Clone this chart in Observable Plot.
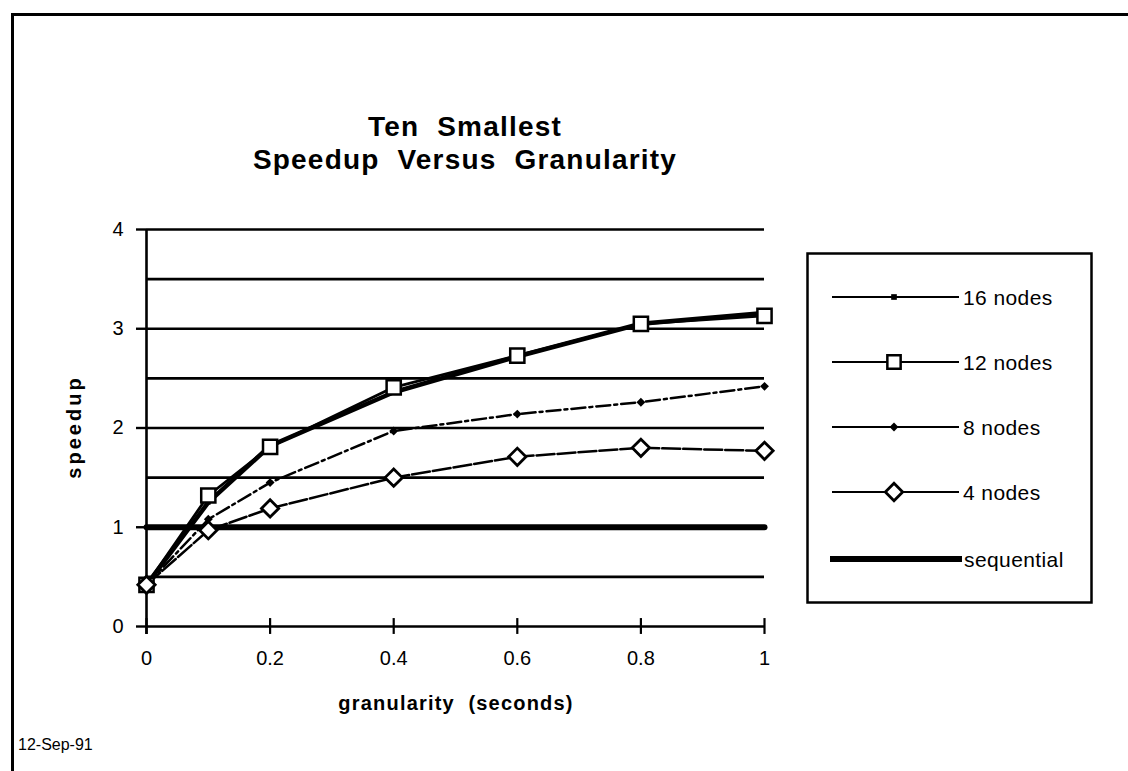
<!DOCTYPE html>
<html><head><meta charset="utf-8">
<script src="https://cdn.jsdelivr.net/npm/d3@7"></script>
<script src="https://cdn.jsdelivr.net/npm/@observablehq/plot@0.6"></script>
<style>
body{margin:0;background:#fff;}
#wrap{position:relative;width:1128px;height:771px;overflow:hidden;font-family:"Liberation Sans",Arial,Helvetica,sans-serif;color:#000;background:#fff;}
#chart{position:absolute;left:0;top:0;}
#border{position:absolute;left:11px;top:13px;width:1300px;height:900px;border-left:3px solid #000;border-top:3px solid #000;}
#title{position:absolute;left:0;width:930px;top:110px;text-align:center;font-weight:bold;font-size:28px;line-height:33px;letter-spacing:1.2px;white-space:pre;}
#ylabel{position:absolute;left:74px;top:427px;transform:translate(-50%,-50%) rotate(-90deg);font-weight:bold;font-size:20px;letter-spacing:3px;white-space:nowrap;}
#xlabel{position:absolute;left:456px;top:703px;transform:translate(-50%,-50%);font-weight:bold;font-size:20px;letter-spacing:1.2px;white-space:pre;}
#date{position:absolute;left:18px;top:736px;font-size:16px;white-space:nowrap;}
#legend{position:absolute;left:806px;top:252px;}
</style></head><body>
<div id="wrap">
  <div id="chart"></div>
  <div id="border"></div>
  <div id="title">Ten  Smallest
Speedup  Versus  Granularity</div>
  <div id="ylabel">speedup</div>
  <div id="xlabel">granularity  (seconds)</div>
  <div id="date">12-Sep-91</div>
  <div id="legend"></div>
</div>
<script>
// ---- data ----
const granularity = [0, 0.1, 0.2, 0.4, 0.6, 0.8, 1];
const nodes16 = [0.42, 1.25, 1.82, 2.36, 2.72, 3.05, 3.16];
const nodes12 = [0.42, 1.32, 1.81, 2.41, 2.73, 3.05, 3.13];
const nodes8  = [0.42, 1.08, 1.45, 1.97, 2.14, 2.26, 2.42];
const nodes4  = [0.42, 0.97, 1.19, 1.50, 1.71, 1.80, 1.77];
const sequential = [1, 1, 1, 1, 1, 1, 1];
const seriesNames = ["16 nodes", "12 nodes", "8 nodes", "4 nodes", "sequential"];
const xTicks = [0, 0.2, 0.4, 0.6, 0.8, 1];
const xTickLabels = ["0", "0.2", "0.4", "0.6", "0.8", "1"];
const yTicks = [0, 1, 2, 3, 4];
const yGrid = [0.5, 1, 1.5, 2, 2.5, 3, 3.5, 4];

const seriesValues = [nodes16, nodes12, nodes8, nodes4, sequential];
const table = [];
seriesNames.forEach((name, i) => granularity.forEach((g, j) => table.push({series: name, x: g, y: seriesValues[i][j]})));
const of = name => table.filter(d => d.series === name);

const styles = {
  "16 nodes": {strokeWidth: 4.5, dash: null, symbol: "square", r: 2.6, fill: "#000", sw: 0},
  "12 nodes": {strokeWidth: 2.8, dash: null, symbol: "square", r: 8, fill: "#fff", sw: 2.5},
  "8 nodes":  {strokeWidth: 2.5, dash: "14,4,3,4", symbol: "diamond2", r: 4, fill: "#000", sw: 0},
  "4 nodes":  {strokeWidth: 2.5, dash: "18,3", symbol: "diamond2", r: 7.8, fill: "#fff", sw: 2.8},
  "sequential": {strokeWidth: 6, dash: null, symbol: null}
};

const marks = [
  Plot.ruleY(yGrid, {stroke: "#000", strokeWidth: 2.6}),
  Plot.ruleY([0], {stroke: "#000", strokeWidth: 2.4}),
  Plot.ruleX([0], {y1: -0.08, y2: 4, stroke: "#000", strokeWidth: 2.6}),
  Plot.ruleX(xTicks, {y1: -0.08, y2: 0.08, stroke: "#000", strokeWidth: 2.2}),
  Plot.axisY({ticks: yTicks, tickSize: 10, tickPadding: 13, tickFormat: d => String(d), stroke: "#000", strokeWidth: 2.4, label: null}),
  Plot.axisX({ticks: xTicks, tickSize: 0, tickPadding: 24, tickFormat: (d, i) => xTickLabels[i], label: null})
];
for (const name of ["sequential", "4 nodes", "8 nodes", "16 nodes", "12 nodes"]) {
  const s = styles[name];
  marks.push(Plot.line(of(name), {x: "x", y: "y", stroke: "#000", strokeWidth: s.strokeWidth, strokeDasharray: s.dash, strokeLinejoin: "round"}));
}
for (const name of ["8 nodes", "16 nodes", "12 nodes", "4 nodes"]) {
  const s = styles[name];
  marks.push(Plot.dot(of(name), {x: "x", y: "y", symbol: () => s.symbol, r: s.r, fill: s.fill, stroke: "#000", strokeWidth: s.sw}));
}

const chart = Plot.plot({
  width: 1128, height: 771,
  marginLeft: 146, marginRight: 364, marginTop: 229, marginBottom: 145,
  x: {domain: [0, 1]},
  y: {domain: [0, 4]},
  style: {background: "transparent", fontSize: "20px", fontFamily: "'Liberation Sans', Arial, sans-serif", color: "#000", overflow: "visible"},
  marks
});
document.getElementById("chart").appendChild(chart);

// ---- legend ----
const lw = 287, lh = 352;
const lsvg = d3.select("#legend").append("svg").attr("width", lw).attr("height", lh);
lsvg.append("rect").attr("x", 1.5).attr("y", 1.5).attr("width", lw - 3).attr("height", lh - 3)
  .attr("fill", "#fff").attr("stroke", "#000").attr("stroke-width", 2.5);
const rowY = [45, 110, 175, 240, 307];
const symMap = {square: d3.symbolSquare, diamond2: d3.symbolDiamond2};
seriesNames.forEach((name, i) => {
  const s = styles[name];
  const g = lsvg.append("g").attr("transform", `translate(0,${rowY[i]})`);
  if (name === "sequential") {
    g.append("line").attr("x1", 24).attr("x2", 156).attr("stroke", "#000").attr("stroke-width", 6);
  } else {
    g.append("line").attr("x1", 26).attr("x2", 153).attr("stroke", "#000").attr("stroke-width", 2.2);
    const r = name === "16 nodes" ? 3.2 : name === "12 nodes" ? 7.5 : s.r;
    g.append("path").attr("transform", "translate(88,0)")
      .attr("d", d3.symbol(symMap[s.symbol], Math.PI * r * r)())
      .attr("fill", s.fill).attr("stroke", "#000").attr("stroke-width", s.sw);
  }
  g.append("text").attr("x", name === "sequential" ? 158 : 157).attr("dy", "0.36em")
    .attr("font-size", 21).attr("font-family", "'Liberation Sans', Arial, sans-serif")
    .attr("letter-spacing", 0.4).text(name);
});
</script>
</body></html>
